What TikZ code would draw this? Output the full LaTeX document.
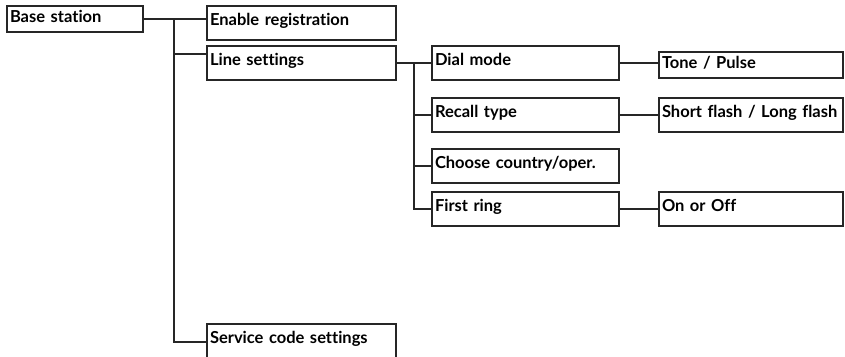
\documentclass[tikz,border=0pt]{standalone}
\usepackage{fontspec}
\setsansfont{Lato}[Ligatures=NoCommon]
\usepackage{tikz}
\usetikzlibrary{positioning}

\begin{document}
\begin{tikzpicture}[
  x=1pt, y=-1pt,
  font=\sffamily\bfseries\fontsize{16.5}{19}\selectfont,
  item/.style   ={rectangle, draw=black!85, line width=2.2pt, anchor=north west,
                  inner xsep=3pt, inner ysep=0pt, outer sep=0pt, text width=#1, align=left,
                  text height=19pt, text depth=15pt},
  item/.default=183pt,
  lowbox/.style ={text height=16pt, text depth=10pt},
  link/.style   ={draw=black!85, line width=2.2pt},
]
\useasboundingbox (0,0) rectangle (845,356);

% --- Level 1 ---
\node[item=130pt, lowbox] (base) at (7,6) {Base station};

% --- Level 2 ---
\node[item, below right=0pt and 64pt of base.north east] (enable)  {Enable registration};
\node[item, below=6pt of enable]                         (line)    {Line settings};
\node[item, below=244pt of line]                         (service) {Service code settings};

% --- Level 3 (line settings) ---
\node[item=181pt, below right=0pt and 36pt of line.north east] (dial)   {Dial mode};
\node[item=181pt, below=18pt of dial]                          (recall) {Recall type};
\node[item=181pt, below=17pt of recall]                        (choose) {Choose country/oper.};
\node[item=181pt, below=9pt of choose]                         (first)  {First ring};

% --- Level 4 ---
\node[item=178pt, lowbox, below right=6pt and 40pt of dial.north east] (tone)  {Tone / Pulse};
\node[item=178pt, right=40pt of recall]                                (flash) {\mbox{Short flash / Long flash}};
\node[item=178pt, right=40pt of first]                                 (onoff) {On or Off};

% --- Links ---
\coordinate[right=31pt of base.east] (trunk);
\draw[link] (base.east) -- (base.east -| enable.west);
\draw[link] (trunk) |- ([yshift=-8pt]line.north west);
\draw[link] (trunk) |- ([yshift=-18pt]service.north west);

\coordinate[right=18pt of line.east] (subtrunk);
\draw[link] (line.east) -- (dial.west);
\draw[link] (subtrunk) |- (recall.west);
\draw[link] (subtrunk) |- (choose.west);
\draw[link] (subtrunk) |- (first.west);

\draw[link] (dial.east) -- (dial.east -| tone.west);
\draw[link] (recall) -- (flash);
\draw[link] (first) -- (onoff);

\end{tikzpicture}
\end{document}
